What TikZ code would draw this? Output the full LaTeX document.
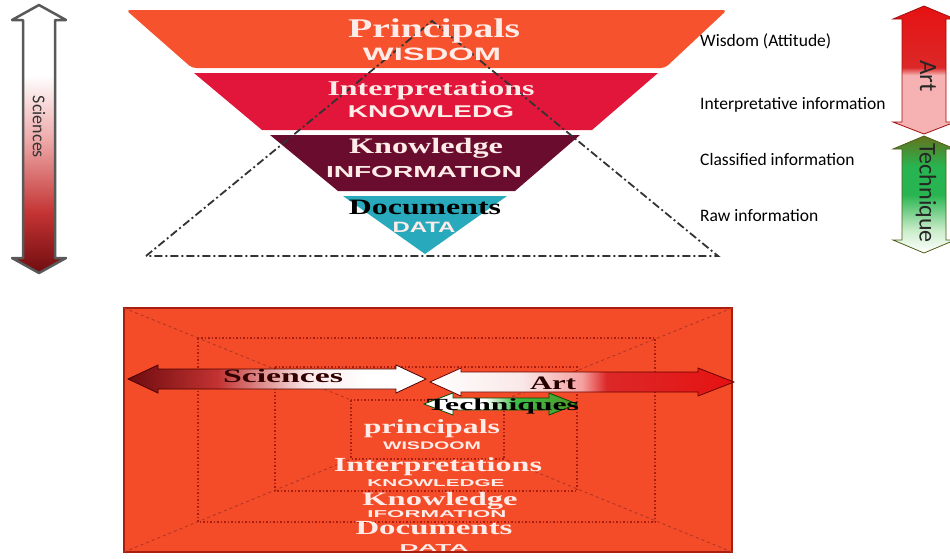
\documentclass[tikz,border=0pt]{standalone}
\usepackage{fontspec}
\usepackage{graphicx}
\setmainfont{Liberation Serif}
\newfontfamily\sansf{Liberation Sans}
\newfontfamily\calib{Carlito}
\definecolor{bandA}{RGB}{245,82,45}
\definecolor{bandB}{RGB}{225,22,58}
\definecolor{bandC}{RGB}{106,12,46}
\definecolor{bandD}{RGB}{40,170,188}
\definecolor{boxfill}{RGB}{244,76,40}
\definecolor{boxline}{RGB}{170,30,15}
\definecolor{lighttxt}{RGB}{255,236,232}
\definecolor{sdark}{RGB}{110,12,15}
\definecolor{smid}{RGB}{195,50,50}
\definecolor{spink}{RGB}{238,170,170}
\definecolor{artred}{RGB}{230,18,18}
\definecolor{artred2}{RGB}{220,40,40}
\definecolor{artpink}{RGB}{246,178,178}
\definecolor{tolive}{RGB}{100,115,30}
\definecolor{tgreen}{RGB}{40,180,80}
\definecolor{tlight}{RGB}{200,236,200}
\definecolor{hpink}{RGB}{250,232,232}
\definecolor{hpink2}{RGB}{245,160,160}
\definecolor{hgreen}{RGB}{60,190,70}
\definecolor{hgreen2}{RGB}{80,150,40}
\pgfdeclareverticalshading{scivert}{100bp}{color(0bp)=(sdark); color(25bp)=(sdark); color(36bp)=(smid); color(50bp)=(spink); color(62bp)=(white); color(100bp)=(white)}
\pgfdeclareverticalshading{artvert}{100bp}{color(0bp)=(artpink); color(48bp)=(artpink); color(51bp)=(artred2); color(75bp)=(artred); color(100bp)=(artred)}
\pgfdeclareverticalshading{techvert}{100bp}{color(0bp)=(white); color(25bp)=(white); color(35bp)=(tlight); color(50bp)=(tgreen); color(62bp)=(tgreen); color(75bp)=(tolive); color(100bp)=(tolive)}
\pgfdeclarehorizontalshading{scihor}{100bp}{color(0bp)=(sdark); color(25bp)=(sdark); color(40bp)=(smid); color(55bp)=(hpink); color(65bp)=(white); color(100bp)=(white)}
\pgfdeclarehorizontalshading{arthor}{100bp}{color(0bp)=(white); color(25bp)=(white); color(40bp)=(hpink); color(50bp)=(hpink2); color(54bp)=(artred2); color(75bp)=(artred); color(100bp)=(artred)}
\pgfdeclarehorizontalshading{techhor}{100bp}{color(0bp)=(white); color(25bp)=(white); color(45bp)=(white); color(55bp)=(hgreen); color(75bp)=(hgreen2); color(100bp)=(hgreen2)}
\newcommand{\fitw}[3]{\resizebox{#1pt}{\height}{\fontsize{#2}{#2}\selectfont #3}}
\tikzset{
  band/.style={draw=white, line width=1.5pt},
  lbl/.style={inner sep=0pt, anchor=base},
  side/.style={inner sep=0pt, anchor=base west, font=\calib\fontsize{17.5}{19}\selectfont},
  tri/.style={draw=black!80, line width=1.8pt, dash pattern=on 8pt off 3pt on 2pt off 3pt},
  dotbox/.style={draw=boxline, dotted, line width=1.5pt},
  diag/.style={draw=boxline!90, dashed, line width=0.9pt},
}
\begin{document}
\begin{tikzpicture}[x=1pt,y=-1pt]
\useasboundingbox (0,0) rectangle (950,558);
% ---------------- top pyramid ----------------
\fill[bandA, rounded corners=4pt] (126,10) -- (727,10) -- (665,68) -- (192,68) -- cycle;
\fill[bandB] (194,73) -- (658,73) -- (592,130) -- (262,130) -- cycle;
\fill[bandC] (270,135) -- (580,135) -- (515,191) -- (338,191) -- cycle;
\fill[bandD] (343,196) -- (507,196) -- (425,254) -- cycle;
% dashed triangle
\coordinate (ta) at (432,21);
\coordinate (tl) at (146,256);
\coordinate (tr) at (718,256);
\draw[tri] (tl) -- (ta) -- (tr) -- cycle;
% band texts
\node[lbl, text=lighttxt] (t1) at (434,37) {\fitw{172}{27}{\bfseries Principals}};
\node[lbl, text=lighttxt] (t2) at (432,60) {\fitw{138}{18}{\sansf\bfseries WISDOM}};
\node[lbl, text=lighttxt] (t3) at (431,95) {\fitw{207}{21}{\bfseries Interpretations}};
\node[lbl, text=lighttxt] (t4) at (431,117) {\fitw{166}{17}{\sansf\bfseries KNOWLEDG}};
\node[lbl, text=lighttxt] (t5) at (426,153) {\fitw{154}{22}{\bfseries Knowledge}};
\node[lbl, text=lighttxt] (t6) at (424,177) {\fitw{196}{16}{\sansf\bfseries INFORMATION}};
\node[lbl, text=black] (t7) at (425,214) {\fitw{152}{22}{\bfseries Documents}};
\node[lbl, text=lighttxt] (t8) at (424,232) {\fitw{63}{15}{\sansf\bfseries DATA}};
% right labels
\node[side] (r1) at (700,46) {Wisdom (Attitude)};
\node[side] (r2) at (700,109) {Interpretative information};
\node[side] (r3) at (700,165) {Classified information};
\node[side] (r4) at (700,221) {Raw information};
% ---------------- left vertical arrow ----------------
\shade[shading=scivert, draw=black!65, line width=2.5pt, line join=round]
  (39,5) -- (66,20) -- (55,20) -- (55,258) -- (66,258) -- (39,273) -- (12,258) -- (23,258) -- (23,20) -- (12,20) -- cycle;
\node[rotate=-90, inner sep=0pt, text=black!80, font=\calib\fontsize{18}{18}\selectfont] (sc) at (39,127) {Sciences};
% ---------------- right vertical arrows ----------------
\shade[shading=artvert, draw=artred!70!black, line width=0.8pt]
  (924,6) -- (955,19) -- (946,19) -- (946,122) -- (955,122) -- (924,134) -- (893,122) -- (902,122) -- (902,19) -- (893,19) -- cycle;
\node[rotate=-90, inner sep=0pt, text=black!85, font=\calib\fontsize{25}{25}\selectfont] (art) at (928,76) {Art};
\shade[shading=techvert, draw=tolive!80!black, line width=0.8pt]
  (924,136) -- (955,149) -- (946,149) -- (946,240) -- (955,240) -- (924,253) -- (893,240) -- (902,240) -- (902,149) -- (893,149) -- cycle;
\node[rotate=-90, inner sep=0pt, text=black!85, font=\calib\fontsize{24}{24}\selectfont] (tech) at (926,193) {Technique};
% ---------------- bottom box ----------------
\draw[fill=boxfill, draw=boxline, line width=1.2pt] (124,308) rectangle (732,552);
\coordinate (o1) at (124,308); \coordinate (o2) at (732,308);
\coordinate (o3) at (732,552); \coordinate (o4) at (124,552);
\coordinate (i1) at (351,400); \coordinate (i2) at (504,400);
\coordinate (i3) at (504,459); \coordinate (i4) at (351,459);
\draw[diag] (o1) -- (i1); \draw[diag] (o2) -- (i2);
\draw[diag] (o3) -- (i3); \draw[diag] (o4) -- (i4);
\draw[dotbox] (198,338) rectangle (655,522);
\draw[dotbox] (275,367) rectangle (577,491);
\draw[dotbox] (i1) rectangle (i3);
% bottom arrows
\shade[shading=techhor, draw=black!70!green, line width=0.8pt]
  (424,404) -- (453,393) -- (453,398) -- (549,398) -- (549,393) -- (577,404) -- (549,415) -- (549,410) -- (453,410) -- (453,415) -- cycle;
\shade[shading=scihor, draw=black!70!red, line width=0.8pt]
  (128,379) -- (158,365) -- (158,369) -- (396,369) -- (396,365) -- (426,379) -- (396,393) -- (396,389) -- (158,389) -- (158,393) -- cycle;
\shade[shading=arthor, draw=black!60!red, line width=0.8pt]
  (430,382) -- (461,368) -- (461,372) -- (698,372) -- (698,368) -- (734,382) -- (698,396) -- (698,392) -- (461,392) -- (461,396) -- cycle;
\node[lbl, text=black!80!red] (bs) at (283,382) {\fitw{120}{19}{\bfseries Sciences}};
\node[lbl, text=black!85!red] (ba) at (553,389) {\fitw{46}{19}{\bfseries Art}};
\node[lbl, text=black] (bt) at (503,410) {\fitw{152}{17}{\bfseries Techniques}};
% bottom texts
\node[lbl, text=lighttxt] (b1) at (432,433) {\fitw{136}{20}{\bfseries principals}};
\node[lbl, text=lighttxt] (b2) at (432,449) {\fitw{98}{11}{\sansf\bfseries WISDOOM}};
\node[lbl, text=lighttxt] (b3) at (438,471) {\fitw{208}{20}{\bfseries Interpretations}};
\node[lbl, text=lighttxt] (b4) at (436,486) {\fitw{137}{10}{\sansf\bfseries KNOWLEDGE}};
\node[lbl, text=lighttxt] (b5) at (440,505) {\fitw{155}{19}{\bfseries Knowledge}};
\node[lbl, text=lighttxt] (b6) at (437,517) {\fitw{139}{10}{\sansf\bfseries IFORMATION}};
\node[lbl, text=lighttxt] (b7) at (434,534) {\fitw{157}{20}{\bfseries Documents}};
\node[lbl, text=lighttxt] (b8) at (434,551) {\fitw{69}{10}{\sansf\bfseries DATA}};
\end{tikzpicture}
\end{document}
